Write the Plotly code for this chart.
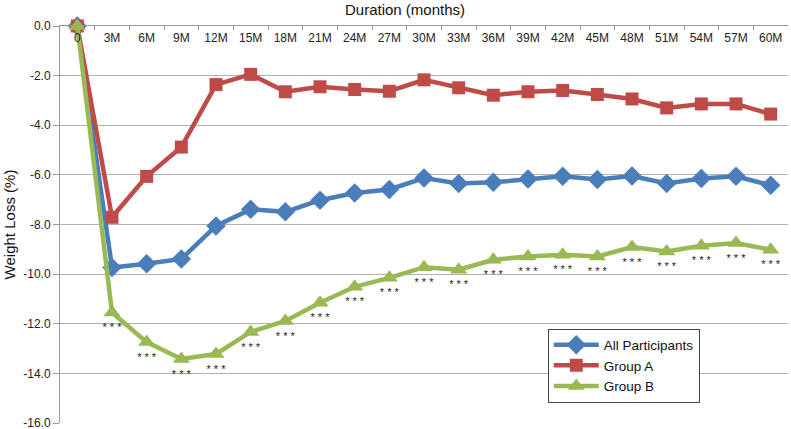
import plotly.graph_objects as go

categories = ["0", "3M", "6M", "9M", "12M", "15M", "18M", "21M", "24M", "27M", "30M",
              "33M", "36M", "39M", "42M", "45M", "48M", "51M", "54M", "57M", "60M"]

all_participants = [0.0, -9.73, -9.58, -9.39, -8.06, -7.39, -7.49, -7.02, -6.73, -6.59, -6.13,
                    -6.35, -6.30, -6.17, -6.06, -6.19, -6.05, -6.35, -6.15, -6.06, -6.42]
group_a = [0.0, -7.71, -6.06, -4.88, -2.36, -1.95, -2.65, -2.45, -2.56, -2.63, -2.17,
           -2.49, -2.79, -2.65, -2.60, -2.76, -2.94, -3.30, -3.14, -3.14, -3.55]
group_b = [0.0, -11.55, -12.74, -13.42, -13.22, -12.33, -11.89, -11.15, -10.51, -10.15, -9.72,
           -9.82, -9.42, -9.29, -9.22, -9.29, -8.91, -9.09, -8.86, -8.75, -9.02]
group_b_sig = [""] + ["* * *"] * 20

y_tickvals = [0, -2, -4, -6, -8, -10, -12, -14, -16]
y_ticktext = ["0.0", "-2.0", "-4.0", "-6.0", "-8.0", "-10.0", "-12.0", "-14.0", "-16.0"]

FONT = "Liberation Sans, Arial, sans-serif"

fig = go.Figure()
fig.add_trace(go.Scatter(
    x=categories, y=all_participants, name="All Participants", mode="lines+markers",
    line=dict(color="#4A7EBB", width=4.5),
    marker=dict(symbol="diamond", size=15, color="#4A7EBB"),
    cliponaxis=False))
fig.add_trace(go.Scatter(
    x=categories, y=group_a, name="Group A", mode="lines+markers",
    line=dict(color="#BE4B48", width=4.5),
    marker=dict(symbol="square", size=13, color="#BE4B48"),
    cliponaxis=False))
fig.add_trace(go.Scatter(
    x=categories, y=group_b, name="Group B", mode="lines+markers+text",
    line=dict(color="#98B954", width=4.5),
    marker=dict(symbol="triangle-up", size=15, color="#98B954"),
    text=group_b_sig, textposition="bottom center",
    textfont=dict(size=11, color="#222222", family=FONT),
    cliponaxis=False))

fig.update_layout(
    width=791, height=429,
    margin=dict(l=60, r=3, t=26, b=6),
    paper_bgcolor="white", plot_bgcolor="white",
    font=dict(family=FONT, size=12, color="#222222"),
    showlegend=True,
    legend=dict(x=0.670, y=0.238, xanchor="left", yanchor="top",
                bgcolor="white", bordercolor="#444444", borderwidth=1,
                font=dict(size=13.5, color="#111111"), itemwidth=45,
                tracegroupgap=0),
    xaxis=dict(type="category", categoryorder="array", categoryarray=categories,
               range=[-0.5, 20.5], tickangle=0, automargin=False,
               side="top", ticklabelposition="outside", ticklabelstandoff=-22,
               ticks="inside", ticklen=4,
               tickson="boundaries", tickcolor="#999999",
               showline=True, linecolor="#999999", linewidth=1,
               showgrid=False, zeroline=False,
               tickfont=dict(size=12, color="#222222")),
    yaxis=dict(range=[-16, 0], tickvals=y_tickvals, ticktext=y_ticktext,
               automargin=False, ticklabeloverflow="allow",
               ticks="outside", ticklen=6, tickcolor="#999999",
               showline=True, linecolor="#999999", linewidth=1,
               showgrid=True, gridcolor="#B0B0B0", gridwidth=1, zeroline=False,
               tickfont=dict(size=12, color="#222222"),
               title=dict(text="Weight Loss (%)", font=dict(size=15, color="#111111"), standoff=3)),
    annotations=[dict(text="Duration (months)", xref="paper", yref="paper",
                      x=0.474, y=1, yanchor="middle", yshift=17, showarrow=False,
                      font=dict(size=15, color="#111111"))],
)

fig.write_html("out.html", config={"displayModeBar": False},
               post_script="document.body.style.margin='0';")
